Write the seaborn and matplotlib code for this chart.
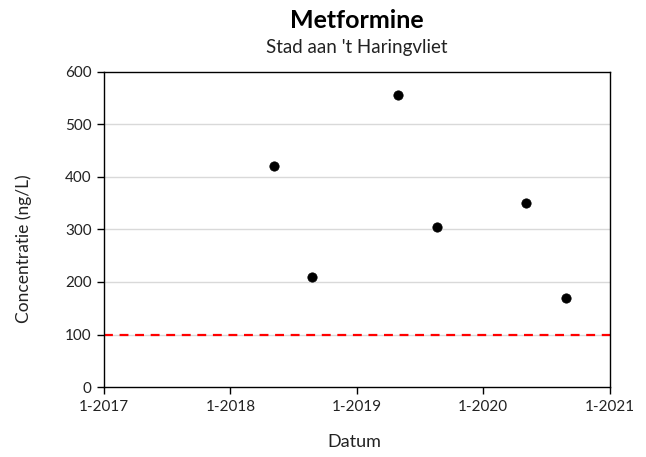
import pandas as pd
import matplotlib.pyplot as plt
import seaborn as sns

dates = ["2018-05-07", "2018-08-24", "2019-05-01", "2019-08-22", "2020-05-05", "2020-08-28"]
concentratie = [420, 210, 555, 305, 350, 170]
norm_dates = ["2017-01-01", "2021-01-01"]
norm_values = [100, 100]
x_ticks = ["2017-01-01", "2018-01-01", "2019-01-01", "2020-01-01", "2021-01-01"]
x_labels = ["1-2017", "1-2018", "1-2019", "1-2020", "1-2021"]
y_ticks = [0, 100, 200, 300, 400, 500, 600]

df = pd.DataFrame({"Datum": pd.to_datetime(dates), "Concentratie": concentratie})
norm = pd.DataFrame({"Datum": pd.to_datetime(norm_dates), "Norm": norm_values})

sns.set_style("white")
plt.rcParams["font.family"] = ["Lato", "DejaVu Sans"]

fig = plt.figure(figsize=(6.46, 4.57), dpi=100)
ax = fig.add_axes([0.161, 0.153, 0.783, 0.690])

# lichte horizontale rasterlijnen
for y in y_ticks[1:-1]:
    ax.axhline(y, color="#d9d9d9", linewidth=1, zorder=0)

sns.lineplot(data=norm, x="Datum", y="Norm", color="red", linestyle=(0, (4, 3)),
             linewidth=1.6, ax=ax)
sns.scatterplot(data=df, x="Datum", y="Concentratie", color="black", s=45,
                edgecolor="black", ax=ax, zorder=3)

ax.set_xlim(pd.Timestamp(x_ticks[0]), pd.Timestamp(x_ticks[-1]))
ax.set_ylim(0, 600)
ax.set_xticks(pd.to_datetime(x_ticks))
ax.set_xticklabels(x_labels)
ax.set_yticks(y_ticks)
ax.tick_params(axis="both", direction="out", length=5, width=1, colors="black",
               labelsize=11, labelcolor="#222222", bottom=True, left=True, pad=4)

for sp in ax.spines.values():
    sp.set_visible(True)
    sp.set_color("black")
    sp.set_linewidth(1)

ax.set_xlabel("Datum", fontsize=13, color="#222222")
ax.set_ylabel("Concentratie (ng/L)", fontsize=12.5, color="#222222")
ax.xaxis.set_label_coords(0.495, -0.15)
ax.yaxis.set_label_coords(-0.142, 0.44)

fig.text(0.553, 0.955, "Metformine", ha="center", va="center", fontsize=18,
         fontweight="bold", color="black")
fig.text(0.553, 0.895, "Stad aan 't Haringvliet", ha="center", va="center",
         fontsize=13.5, color="#222222")

plt.savefig("out.png", dpi=100)
